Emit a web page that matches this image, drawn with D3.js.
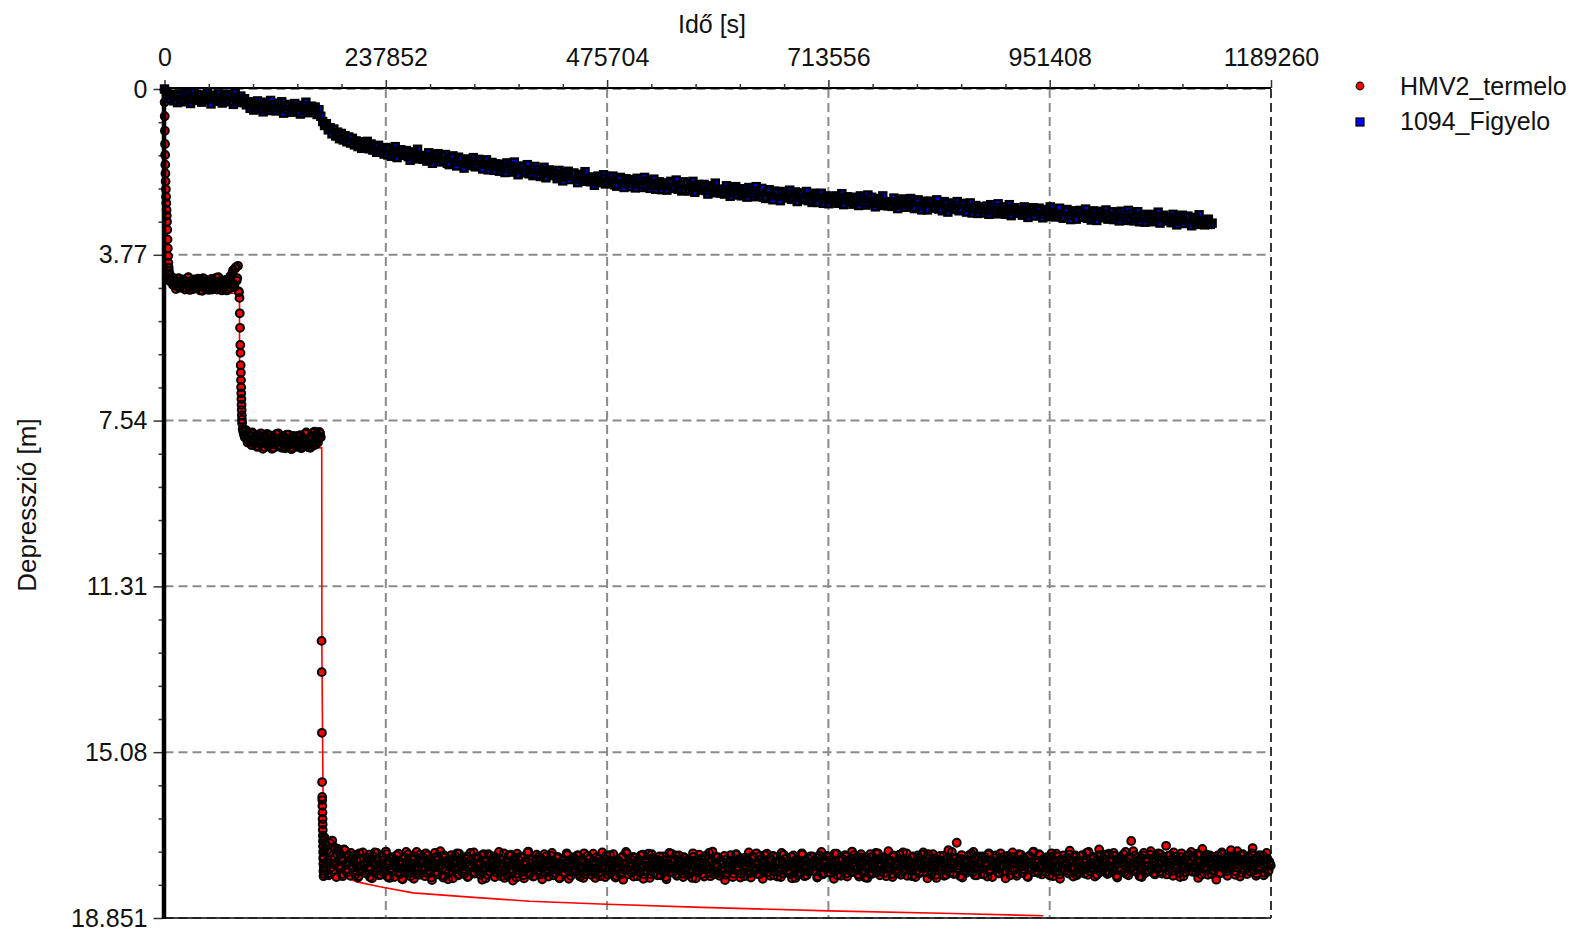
<!DOCTYPE html>
<html>
<head>
<meta charset="utf-8">
<script src="https://cdn.jsdelivr.net/npm/d3@7"></script>
<style>
  body { margin: 0; background: #ffffff; }
  svg text { font-family: "Liberation Sans", Arial, sans-serif; fill: #111; }
</style>
</head>
<body>
<svg id="chart" width="1573" height="932"></svg>
<script>
// ---- Axis ticks -------------------------------------------------------------
const xTickValues = [0, 237852, 475704, 713556, 951408, 1189260];
const xTickLabels = ["0", "237852", "475704", "713556", "951408", "1189260"];
const yTickValues = [0, 3.77, 7.54, 11.31, 15.08, 18.851];
const yTickLabels = ["0", "3.77", "7.54", "11.31", "15.08", "18.851"];

// ---- HMV2_termelo (pumped well), drawdown [m] vs time [s] --------------------
// first pumping step, early readings [t, s]
const termeloRise1 = [[0,0.02],[120,0.3],[250,0.62],[400,0.95],[550,1.25],[700,1.5],[850,1.72],[1000,1.92],
  [1200,2.1],[1450,2.28],[1700,2.45],[1950,2.6],[2200,2.75],[2450,2.88],[2700,3.02],[2950,3.2],[3250,3.42],
  [3550,3.62],[3850,3.8],[4150,3.95],[4450,4.06],[4750,4.14],[5050,4.2]];
// first step, logged every 1500 s from 5500 s, plus the readings in between
const termeloStep1Start = 5500, termeloStep1Interval = 1500;
const termeloStep1 = [
  4.24,4.33,4.29,4.41,4.36,4.48,4.31,4.52,4.39,4.45,
  4.34,4.56,4.42,4.29,4.50,4.38,4.47,4.55,4.33,4.44,
  4.49,4.36,4.58,4.41,4.30,4.53,4.46,4.37,4.57,4.43,
  4.32,4.51,4.45,4.39,4.56,4.28,4.48,4.42,4.54,4.35,
  4.47,4.58,4.40,4.31,4.52,4.19,4.44,4.08,4.36,4.02];
const termeloStep1MidStart = 6250;
const termeloStep1Mid = [
  4.38,4.27,4.46,4.35,4.55,4.40,4.30,4.49,4.43,4.33,
  4.51,4.37,4.46,4.28,4.57,4.42,4.34,4.50,4.39,4.53,
  4.31,4.45,4.36,4.59,4.48,4.33,4.41,4.54,4.38,4.47,
  4.56,4.35,4.43,4.29,4.50,4.46,4.37,4.58,4.40,4.49,
  4.34,4.44,4.55,4.26,4.41,4.12,4.50,4.05,4.30];
// rate change to second step [t, s]
const termeloRise2 = [[79600,4.6],[80100,4.62],[80600,4.75],[80900,5.1],[81200,5.43],[81450,5.82],[81700,6.0],
  [81900,6.28],[82050,6.45],[82200,6.62],[82350,6.78],[82500,6.92],[82650,7.05],[82800,7.18],[82950,7.3],
  [83100,7.42],[83250,7.52],[83400,7.6]];
// second step, logged every 1500 s from 84000 s, plus the readings in between
const termeloStep2Start = 84000, termeloStep2Interval = 1500;
const termeloStep2 = [
  7.73,7.86,7.79,7.95,7.84,8.02,7.90,7.81,8.07,7.96,
  7.88,8.12,7.99,7.83,8.05,7.93,8.15,8.01,7.87,8.09,
  7.97,8.18,7.91,8.04,7.85,8.11,8.00,7.94,8.16,7.89,
  8.06,7.98,8.13,7.86,8.03,8.19,7.92,8.08,7.99,8.14,
  7.88,8.05,8.17,7.95,8.10,7.84,8.02,8.15,7.93,8.07,
  7.82,8.11,7.97,7.85,8.04,7.80,7.92];
const termeloStep2MidStart = 84750;
const termeloStep2Mid = [
  7.80,7.92,7.76,8.04,7.89,7.98,8.10,7.85,8.01,7.93,
  8.14,7.87,8.06,7.96,8.18,7.90,8.03,7.84,8.12,7.99,
  7.88,8.08,8.16,7.95,8.02,7.83,8.13,7.97,8.05,7.91,
  8.17,7.86,8.09,8.00,7.94,8.15,7.89,8.04,8.11,7.92,
  8.01,7.87,8.14,7.96,8.07,7.81,8.10,7.98,8.16,7.90,
  8.03,7.79,8.08,7.86,7.95,7.83];
// rate change to third step [t, s]
const termeloRise3 = [[168800,12.55],[169000,13.26],[169200,14.64],[169400,15.76],[169500,16.1],[169600,16.17],
  [169700,16.3],[169800,16.45],[169900,16.6],[170000,16.72],[170100,16.85],[170200,16.98],[170300,17.1],
  [170400,17.22],[170500,17.35],[170600,17.5],[170700,17.62],[170800,17.78],[170900,17.9],[171000,17.45],
  [171200,17.7],[171400,17.05],[171600,17.85],[171800,17.3]];
// third step, logged every 1500 s from 172000 s
const termeloStep3Start = 172000, termeloStep3Interval = 1500;
const termeloStep3 = [
  17.02,17.68,17.31,17.88,17.15,17.52,17.79,17.24,17.61,17.40,
  17.33,17.72,17.48,17.90,17.29,17.64,17.81,17.42,17.58,17.37,
  17.71,17.45,17.86,17.54,17.93,17.38,17.67,17.79,17.49,17.62,
  17.84,17.57,17.41,17.73,17.95,17.60,17.36,17.77,17.52,17.88,
  17.63,17.44,17.81,17.69,17.34,17.91,17.56,17.75,17.47,17.66,
  17.92,17.53,17.70,17.39,17.85,17.61,17.97,17.46,17.74,17.58,
  17.40,17.83,17.64,17.51,17.96,17.72,17.35,17.68,17.87,17.55,
  17.76,17.49,17.90,17.62,17.43,17.80,17.58,17.99,17.67,17.37,
  17.54,17.86,17.71,17.33,17.65,17.93,17.48,17.78,17.59,17.82,
  17.69,17.42,17.95,17.57,17.74,17.38,17.88,17.63,17.50,17.79,
  17.85,17.60,17.45,17.91,17.66,17.52,17.81,17.36,17.72,17.64,
  17.47,17.78,17.61,17.98,17.40,17.70,17.55,17.87,17.68,17.44,
  17.73,17.56,17.92,17.49,17.83,17.35,17.67,17.77,17.62,17.94,
  17.58,17.89,17.43,17.75,17.64,18.00,17.51,17.70,17.39,17.84,
  17.66,17.48,17.80,17.95,17.57,17.73,17.34,17.86,17.61,17.53,
  17.90,17.63,17.41,17.76,17.69,17.50,17.97,17.59,17.82,17.45,
  17.55,17.79,17.68,17.37,17.88,17.62,17.74,17.46,17.93,17.65,
  17.71,17.52,17.84,17.60,17.42,17.96,17.67,17.78,17.49,17.58,
  17.81,17.44,17.66,17.91,17.55,17.73,17.38,17.85,17.63,17.70,
  17.50,17.87,17.61,17.75,17.94,17.47,17.69,17.57,17.80,17.36,
  17.65,17.92,17.43,17.78,17.56,17.83,17.60,17.40,17.72,17.89,
  17.53,17.70,17.86,17.48,17.98,17.62,17.35,17.76,17.67,17.59,
  17.82,17.46,17.74,17.61,17.90,17.52,17.79,17.68,17.41,17.85,
  17.60,17.77,17.39,17.94,17.66,17.49,17.83,17.57,17.71,17.63,
  17.45,17.88,17.69,17.54,17.75,17.97,17.62,17.37,17.81,17.58,
  17.73,17.51,17.85,17.65,17.43,17.78,17.59,17.92,17.48,17.70,
  17.87,17.56,17.64,17.80,17.38,17.69,17.95,17.53,17.76,17.61,
  17.50,17.74,17.91,17.44,17.67,17.58,17.82,17.70,17.34,17.86,
  17.63,17.79,17.47,17.89,17.55,17.72,17.60,17.99,17.52,17.68,
  17.77,17.42,17.66,17.84,17.61,17.40,17.75,17.57,17.93,17.49,
  17.58,17.90,17.54,17.71,17.36,17.83,17.65,17.47,17.78,17.62,
  17.85,17.61,17.44,17.76,17.96,17.55,17.69,17.39,17.81,17.67,
  17.52,17.73,17.88,17.60,17.46,17.79,17.57,17.92,17.64,17.41,
  17.70,17.49,17.82,17.66,17.58,17.95,17.43,17.74,17.53,17.87,
  17.61,17.84,17.38,17.72,17.90,17.56,17.68,17.80,17.45,17.63,
  17.78,17.55,17.67,17.93,17.48,17.71,17.35,17.86,17.62,17.59,
  17.44,17.81,17.63,17.52,17.77,17.96,17.57,17.39,17.74,17.66,
  17.89,17.50,17.70,17.42,17.84,17.61,17.55,17.79,17.34,17.68,
  17.57,17.76,17.46,17.91,17.63,17.48,17.82,17.69,17.53,17.94,
  17.72,17.40,17.85,17.59,17.67,17.37,17.78,17.51,17.88,17.60,
  17.49,17.83,17.62,17.73,17.33,17.70,17.55,17.92,17.45,17.65,
  17.80,17.56,17.41,17.87,17.64,17.52,17.75,17.38,17.69,17.58,
  17.61,17.90,17.47,17.68,17.79,17.43,17.84,17.57,17.72,17.36,
  17.54,17.71,17.95,17.50,17.62,17.81,17.40,17.66,17.87,17.59,
  17.76,17.44,17.67,17.58,17.89,17.53,17.73,17.31,17.82,17.63,
  17.48,17.85,17.60,17.14,17.74,17.66,17.51,17.93,17.57,17.70,
  17.82,17.55,17.42,17.78,17.63,17.35,17.88,17.50,17.69,17.45,
  17.59,17.73,17.86,17.47,17.64,17.91,17.38,17.75,17.54,17.67,
  17.71,17.43,17.62,17.84,17.52,17.69,17.80,17.46,17.95,17.56,
  17.50,17.77,17.58,17.36,17.72,17.61,17.89,17.53,17.66,17.41,
  17.83,17.49,17.68,17.57,17.92,17.44,17.75,17.62,17.34,17.70,
  17.54,17.79,17.40,17.65,17.86,17.51,17.60,17.81,17.47,17.73,
  17.64,17.38,17.90,17.55,17.71,17.45,17.67,17.96,17.52,17.58,
  17.77,17.61,17.48,17.84,17.32,17.69,17.56,17.74,17.43,17.88,
  17.53,17.82,17.66,17.42,17.75,17.59,17.37,17.87,17.62,17.50,
  17.70,17.46,17.91,17.58,17.64,17.29,17.80,17.55,17.73,17.41,
  17.60,17.85,17.39,17.68,17.52,17.78,17.44,17.63,17.93,17.50,
  17.47,17.72,17.57,17.81,17.35,17.66,17.88,17.51,17.10,17.69,
  17.75,17.43,17.62,17.54,17.90,17.48,17.71,17.37,17.83,17.58,
  17.52,17.79,17.33,17.67,17.56,17.86,17.45,17.74,17.61,17.40,
  17.84,17.50,17.68,17.21,17.63,17.77,17.42,17.59,17.89,17.54,
  17.46,17.73,17.58,17.92,17.38,17.65,17.53,17.81,17.44,17.70,
  17.61,17.35,17.80,17.49,17.71,17.57,17.94,17.42,17.66,17.28,
  17.74,17.55,17.41,17.87,17.60,17.47,17.78,17.52,17.69,17.98,
  17.43,17.67,17.82,17.36,17.58,17.75,17.50,17.89,17.62,17.45,
  17.70,17.48,17.57,17.79,17.33,17.64,17.91,17.53,17.40,17.73,
  17.55,17.85,17.46,17.68,17.61,17.26,17.77,17.50,17.84,17.59,
  17.42,17.71,17.63,17.88,17.52,17.37,17.80,17.57,17.66];
// third step, the readings in between (every 1500 s from 172750 s)
const termeloStep3MidStart = 172750;
const termeloStep3Mid = [
  17.18,17.57,17.84,17.36,17.71,17.09,17.63,17.47,17.92,17.28,
  17.66,17.41,17.85,17.53,17.31,17.76,17.60,17.45,17.89,17.50,
  17.58,17.80,17.42,17.69,17.90,17.51,17.74,17.36,17.65,17.83,
  17.48,17.70,17.92,17.59,17.44,17.81,17.66,17.37,17.75,17.62,
  17.87,17.54,17.68,17.78,17.40,17.61,17.94,17.50,17.72,17.57,
  17.64,17.43,17.82,17.56,17.73,17.96,17.49,17.67,17.35,17.79,
  17.71,17.90,17.53,17.62,17.45,17.85,17.68,17.77,17.41,17.60,
  17.57,17.74,17.38,17.83,17.65,17.52,17.93,17.61,17.70,17.47,
  17.80,17.46,17.67,17.59,17.88,17.42,17.75,17.55,17.97,17.63,
  17.52,17.78,17.60,17.44,17.71,17.86,17.39,17.66,17.81,17.56,
  17.74,17.50,17.92,17.63,17.37,17.69,17.58,17.84,17.47,17.76,
  17.61,17.87,17.43,17.72,17.55,17.95,17.65,17.40,17.79,17.53,
  17.68,17.45,17.81,17.59,17.73,17.50,17.90,17.62,17.38,17.77,
  17.84,17.56,17.66,17.41,17.79,17.61,17.48,17.93,17.70,17.54,
  17.45,17.72,17.88,17.57,17.64,17.36,17.82,17.69,17.52,17.91,
  17.67,17.53,17.78,17.46,17.86,17.63,17.71,17.40,17.58,17.80,
  17.91,17.60,17.44,17.75,17.57,17.83,17.49,17.68,17.95,17.62,
  17.55,17.81,17.69,17.38,17.76,17.54,17.89,17.65,17.47,17.73,
  17.63,17.42,17.85,17.70,17.51,17.94,17.59,17.78,17.44,17.67,
  17.77,17.58,17.39,17.82,17.64,17.71,17.50,17.90,17.56,17.69,
  17.49,17.73,17.61,17.87,17.42,17.66,17.79,17.55,17.93,17.60,
  17.70,17.57,17.83,17.45,17.75,17.62,17.38,17.86,17.68,17.52,
  17.64,17.91,17.48,17.72,17.58,17.80,17.43,17.67,17.96,17.55,
  17.79,17.50,17.66,17.85,17.40,17.73,17.61,17.53,17.88,17.69,
  17.56,17.78,17.45,17.63,17.92,17.51,17.74,17.67,17.39,17.82,
  17.68,17.43,17.89,17.57,17.71,17.62,17.84,17.47,17.76,17.59,
  17.52,17.75,17.63,17.94,17.46,17.69,17.58,17.81,17.41,17.72,
  17.85,17.60,17.48,17.73,17.65,17.37,17.90,17.56,17.78,17.66,
  17.47,17.70,17.83,17.54,17.79,17.62,17.44,17.87,17.59,17.75,
  17.69,17.55,17.92,17.63,17.41,17.77,17.68,17.50,17.84,17.58,
  17.74,17.48,17.65,17.81,17.57,17.93,17.45,17.70,17.61,17.38,
  17.59,17.86,17.53,17.67,17.76,17.42,17.82,17.64,17.51,17.89,
  17.66,17.44,17.79,17.58,17.91,17.55,17.71,17.37,17.84,17.62,
  17.50,17.77,17.63,17.85,17.46,17.68,17.59,17.94,17.54,17.73,
  17.82,17.57,17.41,17.70,17.64,17.88,17.49,17.75,17.60,17.45,
  17.61,17.79,17.55,17.90,17.43,17.67,17.84,17.52,17.72,17.58,
  17.70,17.47,17.83,17.59,17.75,17.39,17.64,17.88,17.53,17.68,
  17.55,17.78,17.62,17.45,17.91,17.57,17.73,17.50,17.81,17.42,
  17.67,17.52,17.86,17.63,17.40,17.76,17.58,17.93,17.48,17.71,
  17.84,17.60,17.46,17.74,17.56,17.82,17.38,17.65,17.79,17.53,
  17.47,17.69,17.90,17.55,17.72,17.61,17.85,17.43,17.66,17.78,
  17.62,17.83,17.51,17.67,17.36,17.77,17.59,17.89,17.54,17.70,
  17.75,17.45,17.68,17.92,17.57,17.48,17.80,17.63,17.41,17.66,
  17.58,17.81,17.40,17.64,17.86,17.53,17.71,17.49,17.94,17.60,
  17.69,17.54,17.77,17.44,17.63,17.87,17.50,17.74,17.57,17.35,
  17.83,17.61,17.48,17.72,17.55,17.90,17.42,17.66,17.79,17.52,
  17.57,17.76,17.64,17.39,17.81,17.50,17.69,17.88,17.46,17.62,
  17.71,17.45,17.85,17.58,17.67,17.41,17.77,17.54,17.92,17.60,
  17.49,17.73,17.56,17.82,17.38,17.65,17.52,17.79,17.62,17.44,
  17.66,17.88,17.47,17.60,17.75,17.53,17.84,17.40,17.69,17.57,
  17.74,17.51,17.63,17.90,17.45,17.70,17.58,17.36,17.81,17.55,
  17.60,17.83,17.42,17.67,17.55,17.78,17.48,17.73,17.62,17.88,
  17.46,17.69,17.57,17.80,17.39,17.64,17.86,17.52,17.71,17.43,
  17.65,17.50,17.78,17.41,17.72,17.59,17.91,17.47,17.61,17.83,
  17.56,17.76,17.44,17.67,17.84,17.52,17.70,17.35,17.79,17.60,
  17.73,17.48,17.63,17.87,17.54,17.42,17.75,17.66,17.50,17.81,
  17.44,17.68,17.82,17.55,17.71,17.37,17.64,17.89,17.53,17.61,
  17.77,17.52,17.40,17.66,17.85,17.58,17.47,17.73,17.62,17.33,
  17.59,17.80,17.48,17.70,17.56,17.92,17.43,17.67,17.51,17.76,
  17.66,17.41,17.74,17.57,17.83,17.50,17.69,17.38,17.79,17.55,
  17.48,17.72,17.60,17.86,17.44,17.67,17.53,17.78,17.36,17.63,
  17.71,17.55,17.83,17.47,17.64,17.90,17.52,17.69,17.58,17.41,
  17.53,17.78,17.45,17.66,17.81,17.39,17.74,17.57,17.87,17.62,
  17.68,17.49,17.72,17.56,17.43,17.85,17.61,17.76,17.50,17.67,
  17.57,17.84,17.40,17.69,17.62,17.48,17.79,17.55,17.73,17.31,
  17.64,17.52,17.87,17.45,17.70,17.58,17.42,17.82,17.60,17.76,
  17.49,17.71,17.59,17.80,17.38,17.66,17.54,17.89,17.47,17.68,
  17.73,17.56,17.44,17.82,17.61,17.50,17.77,17.63];

// fitted drawdown curve for the pumped well [t, s]
const termeloModel = [[0,0],[300,0.75],[800,1.8],[1500,2.55],[2500,3.15],[3500,3.6],[5000,4.05],[10000,4.3],
  [20000,4.48],[40000,4.6],[60000,4.64],[80600,4.65],[80700,7.6],[82000,7.91],[90000,8.03],[100000,8.09],
  [120000,8.13],[169000,8.16],[169200,12.87],[170700,16.84],[177900,17.37],[188600,17.87],[206900,18.03],
  [231600,18.14],[267100,18.28],[325100,18.37],[392800,18.47],[475600,18.54],[577900,18.61],[713800,18.69],
  [847500,18.75],[944500,18.80]];

// ---- 1094_Figyelo (observation well), logged every 2000 s from 0 s ----------
const figyeloStart = 0, figyeloInterval = 2000;
const figyelo = [
  0.00,0.09,0.14,0.22,0.12,0.27,0.17,0.31,0.11,0.24,
  0.15,0.29,0.10,0.23,0.33,0.18,0.08,0.26,0.13,0.21,
  0.30,0.16,0.25,0.09,0.19,0.34,0.14,0.22,0.28,0.11,
  0.20,0.32,0.15,0.26,0.12,0.29,0.18,0.35,0.10,0.24,
  0.27,0.16,0.31,0.22,0.36,0.29,0.44,0.33,0.48,0.38,
  0.27,0.45,0.34,0.52,0.30,0.41,0.49,0.26,0.43,0.36,
  0.50,0.32,0.44,0.29,0.55,0.38,0.47,0.35,0.53,0.40,
  0.33,0.51,0.42,0.57,0.37,0.48,0.30,0.54,0.45,0.39,
  0.52,0.41,0.58,0.47,0.62,0.74,0.83,0.79,0.93,0.88,
  1.02,0.91,1.07,0.98,1.13,1.01,1.16,1.06,1.20,1.09,
  1.23,1.12,1.27,1.18,1.31,1.20,1.35,1.24,1.30,1.19,
  1.36,1.25,1.39,1.31,1.44,1.28,1.42,1.35,1.48,1.33,
  1.50,1.36,1.53,1.41,1.31,1.56,1.45,1.38,1.51,1.43,
  1.40,1.54,1.62,1.48,1.43,1.59,1.37,1.56,1.51,1.60,
  1.53,1.64,1.45,1.61,1.69,1.50,1.58,1.47,1.66,1.52,
  1.63,1.49,1.69,1.72,1.57,1.52,1.66,1.75,1.55,1.60,
  1.61,1.80,1.70,1.59,1.74,1.65,1.56,1.77,1.72,1.60,
  1.65,1.82,1.71,1.61,1.84,1.75,1.67,1.85,1.70,1.76,
  1.87,1.79,1.71,1.90,1.68,1.82,1.75,1.89,1.66,1.84,
  1.95,1.79,1.75,1.91,1.87,1.72,1.93,1.83,1.97,1.76,
  1.95,1.83,1.99,1.86,1.78,2.02,1.91,1.84,1.97,1.89,
  1.93,2.04,1.85,2.01,2.09,1.90,1.98,1.87,2.06,1.92,
  1.91,2.05,2.13,1.99,1.94,2.10,1.88,2.07,2.02,2.11,
  2.00,2.19,2.09,1.98,2.13,2.04,1.95,2.16,2.11,1.99,
  2.12,1.98,2.18,2.21,2.06,2.01,2.15,2.24,2.04,2.09,
  2.22,2.14,2.06,2.25,2.03,2.17,2.10,2.24,2.01,2.19,
  2.09,2.26,2.15,2.05,2.28,2.19,2.11,2.29,2.14,2.20,
  2.30,2.14,2.10,2.26,2.22,2.07,2.28,2.18,2.32,2.11,
  2.29,2.15,2.32,2.20,2.10,2.35,2.24,2.17,2.30,2.22,
  2.17,2.31,2.39,2.25,2.20,2.36,2.14,2.33,2.28,2.37,
  2.28,2.39,2.20,2.36,2.44,2.25,2.33,2.22,2.41,2.27,
  2.43,2.35,2.27,2.46,2.24,2.38,2.31,2.45,2.22,2.40,
  2.40,2.26,2.46,2.49,2.34,2.29,2.43,2.52,2.32,2.37,
  2.35,2.54,2.44,2.33,2.48,2.39,2.30,2.51,2.46,2.34,
  2.56,2.40,2.36,2.52,2.48,2.33,2.54,2.44,2.58,2.37,
  2.41,2.58,2.47,2.37,2.60,2.51,2.43,2.61,2.46,2.52,
  2.57,2.43,2.60,2.48,2.38,2.63,2.52,2.45,2.58,2.50,
  2.62,2.54,2.46,2.65,2.43,2.57,2.50,2.64,2.41,2.59,
  2.46,2.60,2.68,2.54,2.49,2.65,2.43,2.62,2.57,2.66,
  2.56,2.67,2.48,2.64,2.72,2.53,2.61,2.50,2.69,2.55,
  2.63,2.49,2.69,2.72,2.57,2.52,2.66,2.75,2.55,2.60,
  2.75,2.59,2.55,2.71,2.67,2.52,2.73,2.63,2.77,2.56,
  2.61,2.80,2.70,2.59,2.74,2.65,2.56,2.77,2.72,2.60,
  2.63,2.80,2.69,2.59,2.82,2.73,2.65,2.83,2.68,2.74,
  2.82,2.74,2.66,2.85,2.63,2.77,2.70,2.84,2.61,2.79,
  2.82,2.68,2.85,2.73,2.63,2.88,2.77,2.70,2.83,2.75,
  2.76,2.87,2.68,2.84,2.92,2.73,2.81,2.70,2.89,2.75,
  2.71,2.85,2.93,2.79,2.74,2.90,2.68,2.87,2.82,2.91,
  2.85,2.71,2.91,2.94,2.79,2.74,2.88,2.97,2.77,2.82,
  2.96,2.80,2.76,2.92,2.88,2.73,2.94,2.84,2.98,2.77,
  2.80,2.99,2.89,2.78,2.93,2.84,2.75,2.96,2.91,2.79,
  2.97,2.89,2.81,3.00,2.78,2.92,2.85,2.99,2.76,2.94,
  2.83,3.00,2.89,2.79,3.02,2.93,2.85,3.03,2.88,2.94,
  2.99,2.85,3.02,2.90,2.80,3.05,2.94,2.87,3.00,2.92,
  2.93,3.04,2.85,3.01,3.09,2.90,2.98,2.87,3.06,2.92,
  2.89,3.03,3.11,2.97,2.92,3.08,2.86,3.05,3.00,3.09,
  3.02,2.96,3.08,3.05];

// ---- Build point lists ---------------------------------------------------------
function logged(start, interval, values) {
  return values.map((v, i) => [start + i * interval, v]);
}
const termeloPoints = [].concat(
  termeloRise1,
  logged(termeloStep1Start, termeloStep1Interval, termeloStep1),
  logged(termeloStep1MidStart, termeloStep1Interval, termeloStep1Mid),
  termeloRise2,
  logged(termeloStep2Start, termeloStep2Interval, termeloStep2),
  logged(termeloStep2MidStart, termeloStep2Interval, termeloStep2Mid),
  termeloRise3,
  logged(termeloStep3Start, termeloStep3Interval, termeloStep3),
  logged(termeloStep3MidStart, termeloStep3Interval, termeloStep3Mid)
).sort((a, b) => a[0] - b[0]);
const figyeloPoints = logged(figyeloStart, figyeloInterval, figyelo);

// ---- Scales --------------------------------------------------------------------
const svg = d3.select("#chart");
const x = d3.scaleLinear().domain([0, 1189260]).range([164.5, 1271]);
const y = d3.scaleLinear().domain([0, 18.851]).range([89, 918]);
const [x0, x1] = x.range();
const [y0, y1] = y.range();
const FONT = 25;

function minorBetween(ticks) {
  const out = [];
  for (let i = 0; i < ticks.length - 1; i++) {
    const a = ticks[i], b = ticks[i + 1];
    for (let k = 1; k < 5; k++) out.push(a + (b - a) * k / 5);
  }
  return out;
}

// ---- Grid ------------------------------------------------------------------------
const grid = svg.append("g");
grid.selectAll("line.gx").data(xTickValues).join("line")
  .attr("x1", d => x(d)).attr("x2", d => x(d)).attr("y1", y0).attr("y2", y1)
  .attr("stroke", "#8a8a8a").attr("stroke-width", 2).attr("stroke-dasharray", "9,5");
grid.selectAll("line.gy").data(yTickValues).join("line")
  .attr("y1", d => y(d)).attr("y2", d => y(d)).attr("x1", x0).attr("x2", x1)
  .attr("stroke", "#8a8a8a").attr("stroke-width", 2).attr("stroke-dasharray", "9,5");

// ---- Frame ---------------------------------------------------------------------
svg.append("line").attr("x1", x0).attr("x2", x1).attr("y1", y0 - 1).attr("y2", y0 - 1)
  .attr("stroke", "#000").attr("stroke-width", 2);
svg.append("line").attr("x1", x0).attr("x2", x1).attr("y1", y1).attr("y2", y1)
  .attr("stroke", "#000").attr("stroke-width", 1.5);
svg.append("line").attr("x1", x1).attr("x2", x1).attr("y1", y0).attr("y2", y1)
  .attr("stroke", "#000").attr("stroke-width", 1.2).attr("stroke-dasharray", "9,5");

// ---- Axes ----------------------------------------------------------------------
const topAxis = d3.axisTop(x).tickValues(xTickValues)
  .tickFormat((d, i) => xTickLabels[i]).tickSize(8).tickSizeOuter(0).tickPadding(14);
const gTop = svg.append("g").attr("transform", `translate(0,${y0 - 1})`).call(topAxis);
gTop.select(".domain").remove();
gTop.selectAll(".tick line").attr("stroke", "#333").attr("stroke-width", 1.5);
gTop.selectAll(".tick text").attr("font-size", FONT).attr("fill", "#111")
  .attr("font-family", "'Liberation Sans', Arial, sans-serif");

const topMinor = d3.axisTop(x).tickValues(minorBetween(xTickValues)).tickFormat("").tickSize(4).tickSizeOuter(0);
const gTopMinor = svg.append("g").attr("transform", `translate(0,${y0 - 1})`).call(topMinor);
gTopMinor.select(".domain").remove();
gTopMinor.selectAll(".tick line").attr("stroke", "#333").attr("stroke-width", 1.5);

const leftAxis = d3.axisLeft(y).tickValues(yTickValues)
  .tickFormat((d, i) => yTickLabels[i]).tickSize(9).tickSizeOuter(0).tickPadding(6);
const gLeft = svg.append("g").attr("transform", `translate(${x0 - 2},0)`).call(leftAxis);
gLeft.select(".domain").remove();
gLeft.selectAll(".tick line").attr("stroke", "#333").attr("stroke-width", 1.5);
gLeft.selectAll(".tick text").attr("font-size", FONT).attr("fill", "#111")
  .attr("font-family", "'Liberation Sans', Arial, sans-serif");

const leftMinor = d3.axisLeft(y).tickValues(minorBetween(yTickValues)).tickFormat("").tickSize(4).tickSizeOuter(0);
const gLeftMinor = svg.append("g").attr("transform", `translate(${x0 - 2},0)`).call(leftMinor);
gLeftMinor.select(".domain").remove();
gLeftMinor.selectAll(".tick line").attr("stroke", "#333").attr("stroke-width", 1.5);

// ---- Titles --------------------------------------------------------------------
svg.append("text").attr("x", 712).attr("y", 33).attr("text-anchor", "middle")
  .attr("font-size", FONT).text("Idő [s]");
svg.append("text").attr("transform", "translate(36,505) rotate(-90)").attr("text-anchor", "middle")
  .attr("font-size", FONT + 1).text("Depresszió [m]");

// ---- Model line ----------------------------------------------------------------
svg.append("path").datum(termeloModel)
  .attr("d", d3.line().x(d => x(d[0])).y(d => y(d[1])))
  .attr("fill", "none").attr("stroke", "#ff0000").attr("stroke-width", 1.6);

// ---- Markers: fills first, outlines on top -------------------------------------
function drawCircles(data, r, fill, sw) {
  const g = svg.append("g");
  g.append("g").selectAll("circle").data(data).join("circle")
    .attr("cx", d => x(d[0])).attr("cy", d => y(d[1])).attr("r", r).attr("fill", fill);
  g.append("g").selectAll("circle").data(data).join("circle")
    .attr("cx", d => x(d[0])).attr("cy", d => y(d[1])).attr("r", r)
    .attr("fill", "none").attr("stroke", "#000").attr("stroke-width", sw);
}
function drawSquares(data, size, fill, sw) {
  const g = svg.append("g");
  g.append("g").selectAll("rect").data(data).join("rect")
    .attr("x", d => x(d[0]) - size / 2).attr("y", d => y(d[1]) - size / 2)
    .attr("width", size).attr("height", size).attr("fill", fill);
  g.append("g").selectAll("rect").data(data).join("rect")
    .attr("x", d => x(d[0]) - size / 2).attr("y", d => y(d[1]) - size / 2)
    .attr("width", size).attr("height", size)
    .attr("fill", "none").attr("stroke", "#000").attr("stroke-width", sw);
}
drawCircles(termeloPoints, 3.9, "#ff0000", 2);
drawSquares(figyeloPoints, 7, "#0000ff", 2.4);

// left spine on top of the data
svg.append("line").attr("x1", x0 - 0.5).attr("x2", x0 - 0.5).attr("y1", y0 - 2).attr("y2", y1 + 1)
  .attr("stroke", "#000").attr("stroke-width", 4.5);

// ---- Legend --------------------------------------------------------------------
const legend = svg.append("g");
legend.append("circle").attr("cx", 1360).attr("cy", 86).attr("r", 3.8)
  .attr("fill", "#ff0000").attr("stroke", "#000").attr("stroke-width", 1.2);
legend.append("text").attr("x", 1400).attr("y", 94.5).attr("font-size", FONT).text("HMV2_termelo");
legend.append("rect").attr("x", 1356).attr("y", 118).attr("width", 8).attr("height", 8)
  .attr("fill", "#0000ff").attr("stroke", "#000").attr("stroke-width", 1.2);
legend.append("text").attr("x", 1400).attr("y", 130).attr("font-size", FONT).text("1094_Figyelo");
</script>
</body>
</html>
